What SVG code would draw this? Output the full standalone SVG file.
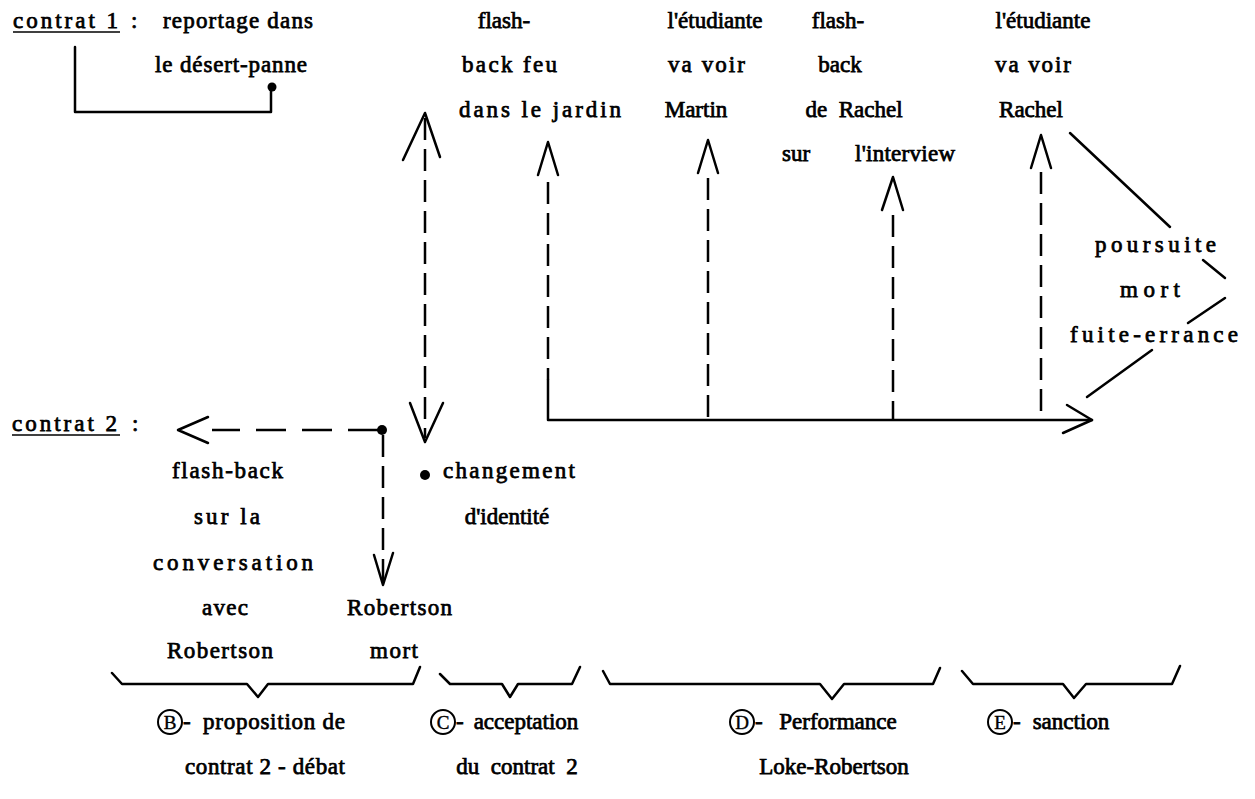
<svg xmlns="http://www.w3.org/2000/svg" width="1255" height="799" viewBox="0 0 1255 799">
<style>
text{font-family:"Liberation Serif","Times New Roman",serif;font-size:23px;fill:#000;stroke:#000;stroke-width:0.75}
.m{text-anchor:middle}
.lt{font-size:19px;text-anchor:middle;stroke-width:0.4}
.ln{stroke:#000;stroke-width:2.5;fill:none;stroke-linecap:round;stroke-linejoin:round}
.ds{stroke:#000;stroke-width:2.5;fill:none;stroke-dasharray:22 9}
.dsl{stroke:#000;stroke-width:2.5;fill:none;stroke-dasharray:30 16}
.ul{stroke:#000;stroke-width:1.6}
.circ{stroke:#000;stroke-width:2;fill:none}
</style>
<rect width="1255" height="799" fill="#fff"/>

<g id="contrat1">
<text x="13" y="28" textLength="105" lengthAdjust="spacing">contrat  1</text>
<line class="ul" x1="13" y1="32" x2="120" y2="32"/>
<text x="131" y="28">:</text>
<text x="163" y="28" textLength="150" lengthAdjust="spacing">reportage dans</text>
<text x="155" y="72" textLength="152" lengthAdjust="spacing">le désert-panne</text>
</g>

<g id="flashback-feu">
<text class="m" x="504" y="28">flash-</text>
<text x="462" y="72" textLength="95" lengthAdjust="spacing">back feu</text>
<text x="459" y="117" textLength="162" lengthAdjust="spacing">dans  le  jardin</text>
</g>

<g id="etudiante-martin">
<text class="m" x="715" y="28">l'étudiante</text>
<text x="668" y="72" textLength="77" lengthAdjust="spacing">va voir</text>
<text class="m" x="696" y="117">Martin</text>
</g>

<g id="flashback-rachel">
<text class="m" x="838" y="28">flash-</text>
<text class="m" x="840" y="72">back</text>
<text class="m" x="854" y="117">de&#160; Rachel</text>
<text class="m" x="796" y="161">sur</text>
<text class="m" x="905" y="161" textLength="100" lengthAdjust="spacing">l'interview</text>
</g>

<g id="etudiante-rachel">
<text class="m" x="1043" y="28">l'étudiante</text>
<text x="995" y="72" textLength="76" lengthAdjust="spacing">va voir</text>
<text class="m" x="1031" y="117">Rachel</text>
</g>

<g id="sanction-events">
<text x="1095" y="252" textLength="121" lengthAdjust="spacing">poursuite</text>
<text x="1120" y="297" textLength="60" lengthAdjust="spacing">mort</text>
<text x="1070" y="342" textLength="168" lengthAdjust="spacing">fuite-errance</text>
</g>

<g id="contrat2">
<text x="12" y="431" textLength="105" lengthAdjust="spacing">contrat  2</text>
<line class="ul" x1="12" y1="435" x2="120" y2="435"/>
<text x="132" y="431">:</text>
</g>

<g id="flashback-conversation">
<text x="172" y="478" textLength="111" lengthAdjust="spacing">flash-back</text>
<text x="194" y="524" textLength="66" lengthAdjust="spacing">sur  la</text>
<text x="153" y="570" textLength="160" lengthAdjust="spacing">conversation</text>
<text x="202" y="615" textLength="46" lengthAdjust="spacing">avec</text>
<text x="167" y="658" textLength="106" lengthAdjust="spacing">Robertson</text>
</g>

<g id="robertson-mort">
<text x="347" y="615" textLength="105" lengthAdjust="spacing">Robertson</text>
<text x="370" y="658" textLength="48" lengthAdjust="spacing">mort</text>
</g>

<g id="changement">
<circle cx="425" cy="475" r="5" fill="#000"/>
<text x="443" y="478" textLength="132" lengthAdjust="spacing">changement</text>
<text class="m" x="507" y="524">d'identité</text>
</g>

<g id="brace-B">
<path class="ln" d="M112,673 L122,684 L247,684 L258,697 L268,684 L413,684 L420,667"/>
<circle class="circ" cx="170" cy="722" r="12"/>
<text x="170" y="729" class="lt">B</text>
<text x="183" y="729">-</text>
<text x="203" y="729" textLength="142" lengthAdjust="spacing">proposition  de</text>
<text x="185" y="774" textLength="160" lengthAdjust="spacing">contrat  2  -  débat</text>
</g>

<g id="brace-C">
<path class="ln" d="M440,674 L450,684 L502,684 L510,697 L518,684 L572,684 L580,667"/>
<circle class="circ" cx="443" cy="722" r="12"/>
<text x="443" y="729" class="lt">C</text>
<text x="456" y="729">-</text>
<text class="m" x="526" y="729">acceptation</text>
<text class="m" x="517" y="774">du&#160; contrat&#160; 2</text>
</g>

<g id="brace-D">
<path class="ln" d="M603,671 L610,684 L820,684 L832,699 L844,684 L933,684 L940,668"/>
<circle class="circ" cx="742" cy="722" r="12"/>
<text x="742" y="729" class="lt">D</text>
<text x="755" y="729">-</text>
<text class="m" x="838" y="729">Performance</text>
<text class="m" x="834" y="774">Loke-Robertson</text>
</g>

<g id="brace-E">
<path class="ln" d="M962,671 L973,684 L1063,684 L1074,698 L1086,684 L1172,684 L1180,666"/>
<circle class="circ" cx="1000" cy="722" r="12"/>
<text x="1000" y="729" class="lt">E</text>
<text x="1013" y="729">-</text>
<text class="m" x="1071" y="729">sanction</text>
</g>

<g id="connectors">
<path class="ln" d="M75,47 L75,112 L271,112 L271,90"/>
<circle cx="272" cy="87" r="4.5" fill="#000"/>
<line class="ds" x1="425" y1="118" x2="425" y2="438"/>
<path class="ln" d="M403,160 L425,113 L440,157"/>
<path class="ln" d="M410,403 L425,442 L443,403"/>
<path class="ln" d="M548,380 L548,420 L1092,420"/>
<path class="ln" d="M1067,405 L1092,420 L1063,433"/>
<line class="ds" x1="548" y1="182" x2="548" y2="380"/>
<path class="ln" d="M538,175 L548,142 L558,175"/>
<line class="ds" x1="708" y1="178" x2="708" y2="420"/>
<path class="ln" d="M698,173 L708,140 L718,173"/>
<line class="ds" x1="893" y1="215" x2="893" y2="420"/>
<path class="ln" d="M882,210 L893,177 L903,210"/>
<line class="ds" x1="1041" y1="172" x2="1041" y2="420"/>
<path class="ln" d="M1031,168 L1041,135 L1051,168"/>
<line class="ln" x1="1070" y1="133" x2="1170" y2="227"/>
<line class="ln" x1="1203" y1="260" x2="1225" y2="278"/>
<line class="ln" x1="1225" y1="298" x2="1188" y2="323"/>
<line class="ln" x1="1152" y1="350" x2="1087" y2="397"/>
<line class="dsl" x1="378" y1="430" x2="212" y2="430"/>
<path class="ln" d="M208,417 L178,430 L208,443"/>
<circle cx="382" cy="430" r="5" fill="#000"/>
<line class="ds" x1="383" y1="435" x2="383" y2="582"/>
<path class="ln" d="M374,555 L383,585 L393,553"/>
</g>
</svg>
